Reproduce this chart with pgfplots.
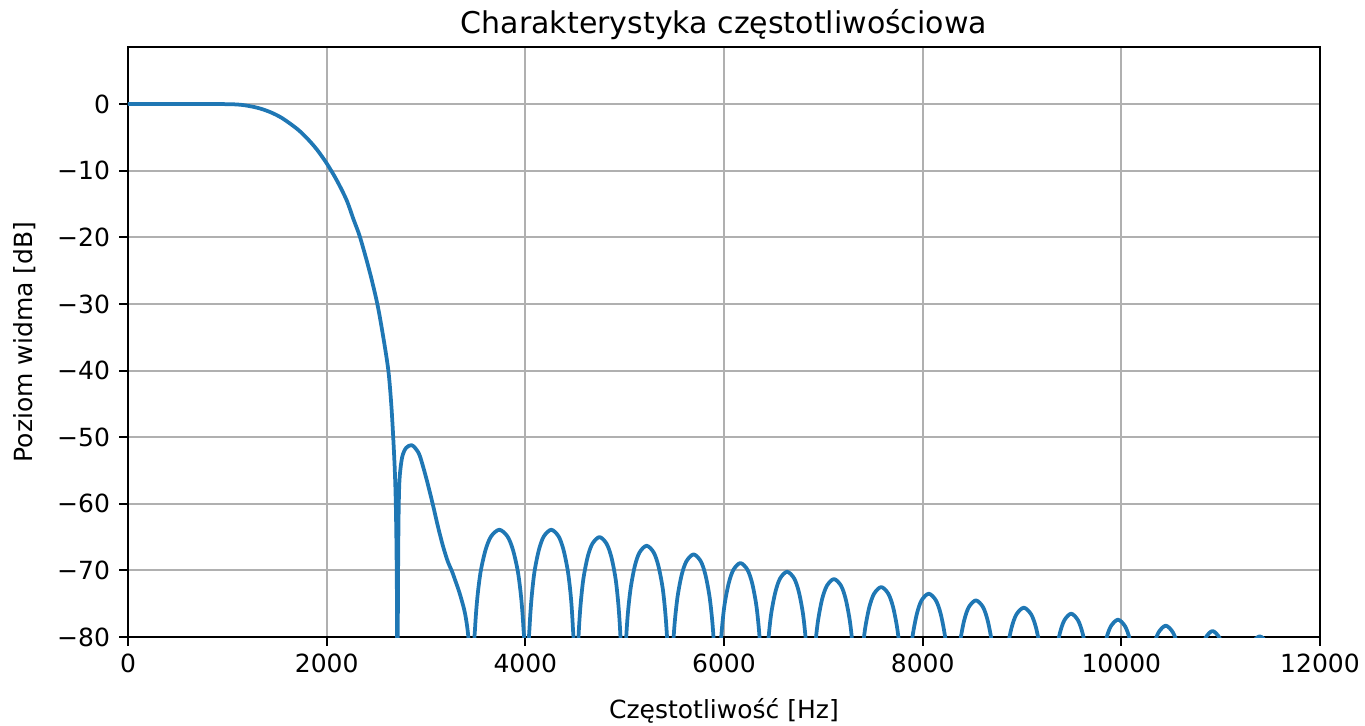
\documentclass[border=0pt]{standalone}
\usepackage{fontspec}
\setmainfont{DejaVu Sans}
\usepackage{pgfplots}
\pgfplotsset{compat=1.18}
\definecolor{mplblue}{RGB}{31,119,180}
\definecolor{mplgrid}{RGB}{176,176,176}
\begin{document}
\begin{tikzpicture}
\path[use as bounding box] (-51.2pt,-35.2pt) rectangle (494.8pt,254.8pt);
\begin{axis}[
  at={(0pt,0pt)}, anchor=south west,
  scale only axis, width=476.8pt, height=236pt,
  xmin=0, xmax=12000, ymin=-80, ymax=8.56,
  scaled x ticks=false, scaled y ticks=false,
  xtick={0,2000,4000,6000,8000,10000,12000},
  xticklabels={0,2000,4000,6000,8000,10000,12000},
  ytick={-80,-70,-60,-50,-40,-30,-20,-10,0},
  yticklabels={−80,−70,−60,−50,−40,−30,−20,−10,0},
  tick pos=left, tick align=outside, major tick length=3.5pt,
  tick style={black, line width=0.8pt},
  grid=major, major grid style={mplgrid, line width=0.8pt},
  axis line style={black, line width=0.8pt},
  every tick label/.append style={font=\fontsize{10}{12}\selectfont},
  xticklabel style={anchor=base, inner sep=0pt, yshift=-10.8pt},
  yticklabel style={anchor=east, inner sep=0pt, xshift=-3.5pt},
  title={Charakterystyka częstotliwościowa},
  title style={at={(axis description cs:0.5,1)}, anchor=base, yshift=-0.5pt, inner sep=0pt, font=\fontsize{12}{14.4}\selectfont},
  xlabel={Częstotliwość [Hz]},
  xlabel style={at={(axis description cs:0.5,0)}, anchor=base, yshift=-32.4pt, inner sep=0pt, font=\fontsize{10}{12}\selectfont},
  ylabel={Poziom widma [dB]},
  ylabel style={at={(axis description cs:-0.0805,0.5)}, anchor=base, inner sep=0pt, font=\fontsize{10}{12}\selectfont},
]
\addplot[mplblue, line width=1.5pt, line join=round, smooth, tension=0.5] coordinates {
(0,0) (500,0) (900,0) (1128,-0.1) (1300,-0.55) (1430,-1.2) (1550,-2.1) (1700,-3.7) (1800,-5.1) (1900,-6.8) (2000,-8.9) (2100,-11.4) (2200,-14.4) (2270,-17.3) (2336,-20) (2430,-25) (2510,-30) (2570,-35) (2621,-40) (2650,-45) (2670,-50) (2686,-55) (2696,-60) (2704,-68) (2709,-80) (2711,-110)
(2716,-80) (2720,-68) (2726,-60) (2735,-56) (2760,-53) (2800,-51.6) (2856,-51.2) (2900,-51.8) (2940,-52.9) (3007,-56.4) (3067,-60) (3120,-63.4) (3170,-66.3) (3220,-68.7) (3258,-70) (3292,-71.4) (3340,-73.5) (3392,-76.4) (3426,-80) (3445,-86) (3462,-110)
(3479,-84.4) (3495,-78.4) (3517,-74.1) (3550,-70.2) (3600,-66.9) (3655,-64.9) (3738,-63.9) (3820,-64.9) (3875,-66.9) (3925,-70.2) (3958,-74.1) (3980,-78.4) (3997,-84.4) (4013,-110)
(4028,-84.4) (4043,-78.4) (4063,-74.1) (4092,-70.2) (4137,-66.9) (4186,-64.9) (4261,-63.9) (4335,-64.9) (4384,-66.9) (4429,-70.2) (4459,-74.1) (4478,-78.4) (4493,-84.4) (4508,-110)
(4522,-85.5) (4537,-79.5) (4556,-75.2) (4584,-71.3) (4627,-68.0) (4675,-66.0) (4747,-65.0) (4818,-66.0) (4866,-68.0) (4909,-71.3) (4937,-75.2) (4956,-79.5) (4971,-85.5) (4985,-110)
(4999,-86.8) (5013,-80.8) (5032,-76.5) (5061,-72.6) (5103,-69.3) (5150,-67.3) (5221,-66.3) (5292,-67.3) (5339,-69.3) (5382,-72.6) (5410,-76.5) (5429,-80.8) (5443,-86.8) (5457,-110)
(5471,-88.1) (5485,-82.1) (5504,-77.8) (5533,-73.9) (5575,-70.6) (5623,-68.6) (5694,-67.6) (5765,-68.6) (5812,-70.6) (5854,-73.9) (5883,-77.8) (5902,-82.1) (5916,-88.1) (5930,-110)
(5944,-89.4) (5958,-83.4) (5977,-79.1) (6005,-75.2) (6048,-71.9) (6095,-69.9) (6165,-68.9) (6236,-69.9) (6283,-71.9) (6325,-75.2) (6353,-79.1) (6372,-83.4) (6386,-89.4) (6400,-110)
(6414,-90.7) (6428,-84.7) (6447,-80.4) (6475,-76.5) (6518,-73.2) (6565,-71.2) (6635,-70.2) (6706,-71.2) (6753,-73.2) (6795,-76.5) (6823,-80.4) (6842,-84.7) (6856,-90.7) (6870,-110)
(6884,-91.8) (6898,-85.8) (6917,-81.5) (6946,-77.6) (6988,-74.3) (7036,-72.3) (7107,-71.3) (7178,-72.3) (7225,-74.3) (7267,-77.6) (7296,-81.5) (7315,-85.8) (7329,-91.8) (7343,-110)
(7357,-93.0) (7372,-87.0) (7391,-82.7) (7420,-78.8) (7463,-75.5) (7511,-73.5) (7583,-72.5) (7654,-73.5) (7702,-75.5) (7745,-78.8) (7774,-82.7) (7793,-87.0) (7808,-93.0) (7822,-110)
(7836,-94.0) (7851,-88.0) (7870,-83.7) (7899,-79.8) (7942,-76.5) (7989,-74.5) (8061,-73.5) (8133,-74.5) (8181,-76.5) (8224,-79.8) (8252,-83.7) (8271,-88.0) (8286,-94.0) (8300,-110)
(8314,-95.0) (8328,-89.0) (8347,-84.7) (8376,-80.8) (8418,-77.5) (8465,-75.5) (8536,-74.5) (8607,-75.5) (8654,-77.5) (8697,-80.8) (8725,-84.7) (8744,-89.0) (8758,-95.0) (8772,-110)
(8787,-96.1) (8802,-90.1) (8821,-85.8) (8851,-81.9) (8895,-78.6) (8944,-76.6) (9018,-75.6) (9092,-76.6) (9141,-78.6) (9185,-81.9) (9215,-85.8) (9235,-90.1) (9249,-96.1) (9264,-110)
(9278,-97.0) (9292,-91.0) (9310,-86.7) (9338,-82.8) (9380,-79.5) (9426,-77.5) (9495,-76.5) (9564,-77.5) (9611,-79.5) (9652,-82.8) (9680,-86.7) (9698,-91.0) (9712,-97.0) (9726,-110)
(9740,-97.9) (9755,-91.9) (9774,-87.6) (9803,-83.7) (9846,-80.4) (9894,-78.4) (9966,-77.4) (10038,-78.4) (10086,-80.4) (10129,-83.7) (10158,-87.6) (10177,-91.9) (10192,-97.9) (10206,-110)
(10221,-98.8) (10235,-92.8) (10254,-88.5) (10283,-84.6) (10327,-81.3) (10375,-79.3) (10447,-78.3) (10519,-79.3) (10568,-81.3) (10611,-84.6) (10640,-88.5) (10659,-92.8) (10674,-98.8) (10688,-110)
(10702,-99.6) (10716,-93.6) (10734,-89.3) (10762,-85.4) (10803,-82.1) (10849,-80.1) (10918,-79.1) (10987,-80.1) (11033,-82.1) (11074,-85.4) (11102,-89.3) (11120,-93.6) (11134,-99.6) (11148,-110)
(11163,-100.4) (11177,-94.4) (11197,-90.1) (11226,-86.2) (11271,-82.9) (11320,-80.9) (11393,-79.9) (11467,-80.9) (11516,-82.9) (11560,-86.2) (11589,-90.1) (11609,-94.4) (11623,-100.4) (11638,-110)
(11700,-90) (11880,-80.6) (12000,-83)
};
\end{axis}
\end{tikzpicture}
\end{document}
